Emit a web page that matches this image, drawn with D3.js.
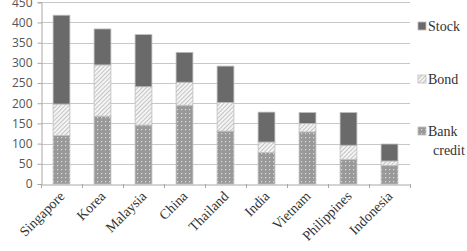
<!DOCTYPE html>
<html>
<head>
<meta charset="utf-8">
<script src="https://cdn.jsdelivr.net/npm/d3@7"></script>
<style>
  body { margin: 0; background: #fff; }
  svg { display: block; }
</style>
</head>
<body>
<svg></svg>
<script>
// chart values
let countries = ["Singapore", "Korea", "Malaysia", "China", "Thailand", "India", "Vietnam", "Philippines", "Indonesia"];
let bankCredit = [120, 168, 146, 195, 131, 78, 129, 61, 46];
let bond       = [78, 127, 95, 57, 71, 26, 21, 35, 11];
let stock      = [220, 89, 129, 74, 90, 74, 27, 81, 42];
let yTicks = [0, 50, 100, 150, 200, 250, 300, 350, 400, 450];
let seriesNames = ["Bank credit", "Bond", "Stock"];

let width = 467;
let height = 251;
let plotLeft = 41, plotRight = 410, plotTop = 2.3, plotBottom = 184;

let svg = d3.select("svg").attr("width", width).attr("height", height);

// patterns
let defs = svg.append("defs");
let dots = defs.append("pattern").attr("id", "dots")
  .attr("patternUnits", "userSpaceOnUse").attr("width", 4).attr("height", 4);
dots.append("rect").attr("width", 4).attr("height", 4).attr("fill", "#999");
dots.append("rect").attr("x", 1).attr("y", 1).attr("width", 1.2).attr("height", 1.2).attr("fill", "#dcdcdc");

let hatch = defs.append("pattern").attr("id", "hatch")
  .attr("patternUnits", "userSpaceOnUse").attr("width", 3).attr("height", 3)
  .attr("patternTransform", "rotate(45)");
hatch.append("rect").attr("width", 3).attr("height", 3).attr("fill", "#f4f4f4");
hatch.append("rect").attr("width", 1).attr("height", 3).attr("fill", "#c4c4c4");

let fills = { "Bank credit": "url(#dots)", "Bond": "url(#hatch)", "Stock": "#6a6a6a" };

let rows = countries.map((c, i) => ({ country: c, "Bank credit": bankCredit[i], "Bond": bond[i], "Stock": stock[i] }));
let stacked = d3.stack().keys(seriesNames)(rows);

let xScale = d3.scaleBand().domain(countries).range([plotLeft, plotRight]).paddingInner(0.59).paddingOuter(0.295);
let xTickScale = d3.scaleBand().domain(countries).range([plotLeft, plotRight]);
let yScale = d3.scaleLinear().domain([0, 450]).range([plotBottom, plotTop]);

// gridlines
svg.append("g").selectAll("line").data(yTicks.filter(d => d > 0)).enter().append("line")
  .attr("x1", plotLeft).attr("x2", plotRight)
  .attr("y1", d => Math.round(yScale(d)) + 0.5).attr("y2", d => Math.round(yScale(d)) + 0.5)
  .attr("stroke", "#c8c8c8").attr("stroke-width", 1);

// y axis
let yAxis = d3.axisLeft(yScale).tickValues(yTicks).tickSize(4).tickPadding(5);
let gy = svg.append("g").attr("transform", "translate(" + (plotLeft + 0.5) + ",0)").call(yAxis);
gy.select(".domain").attr("stroke", "#a8a8a8");
gy.selectAll(".tick line").attr("stroke", "#a8a8a8");
gy.selectAll(".tick text").attr("font-family", "'Open Sans', sans-serif").attr("font-size", 12).attr("fill", "#555");

// bars
svg.append("g").selectAll("g").data(stacked).enter().append("g")
  .attr("fill", d => fills[d.key])
  .selectAll("rect").data(d => d).enter().append("rect")
  .attr("x", d => xScale(d.data.country))
  .attr("width", xScale.bandwidth())
  .attr("y", d => yScale(d[1]))
  .attr("height", d => yScale(d[0]) - yScale(d[1]))
  .attr("stroke", "#bdbdbd").attr("stroke-width", 0.8);

// x axis
let xAxis = d3.axisBottom(xTickScale).tickSize(0).tickFormat("");
let gx = svg.append("g").attr("transform", "translate(0," + (plotBottom + 0.5) + ")").call(xAxis);
gx.select(".domain").attr("stroke", "#a8a8a8");
svg.append("g").selectAll("line").data(countries.concat(["end"])).enter().append("line")
  .attr("x1", (d, i) => plotLeft + i * xTickScale.step() + 0.5)
  .attr("x2", (d, i) => plotLeft + i * xTickScale.step() + 0.5)
  .attr("y1", plotBottom).attr("y2", plotBottom + 4)
  .attr("stroke", "#a8a8a8");

svg.append("g").selectAll("text").data(countries).enter().append("text")
  .attr("transform", d => "translate(" + (xTickScale(d) + xTickScale.bandwidth() / 2 + 4) + "," + (plotBottom + 13) + ") rotate(-45)")
  .attr("text-anchor", "end")
  .attr("font-family", "'Liberation Serif', 'Times New Roman', serif").attr("font-size", 14).attr("fill", "#333")
  .text(d => d);

// legend
let legendItems = [
  { name: "Stock", lines: ["Stock"], y: 26 },
  { name: "Bond", lines: ["Bond"], y: 79 },
  { name: "Bank credit", lines: ["Bank", "credit"], y: 131 }
];
let lg = svg.append("g").selectAll("g").data(legendItems).enter().append("g");
lg.append("rect")
  .attr("x", 418).attr("y", d => d.y - 4).attr("width", 8).attr("height", 8)
  .attr("fill", d => fills[d.name]).attr("stroke", "#bdbdbd").attr("stroke-width", 0.8);
lg.selectAll("text").data(d => d.lines.map((l, i) => ({ l: l, i: i, y: d.y }))).enter().append("text")
  .attr("x", d => d.i === 0 ? 428 : 433)
  .attr("y", d => d.y + 5 + d.i * 19)
  .attr("font-family", "'Liberation Serif', 'Times New Roman', serif").attr("font-size", 14).attr("fill", "#333")
  .text(d => d.l);
</script>
</body>
</html>
